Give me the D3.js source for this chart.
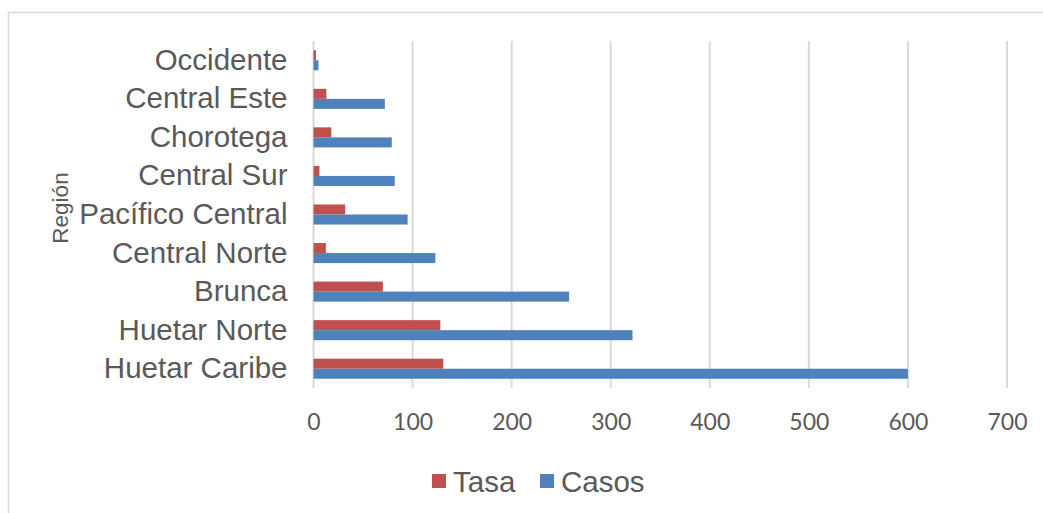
<!DOCTYPE html>
<html>
<head>
<meta charset="utf-8">
<script src="https://cdn.jsdelivr.net/npm/d3@7"></script>
<style>
  body { margin: 0; background: #fff; }
  svg { display: block; }
</style>
</head>
<body>
<svg width="1043" height="513"></svg>
<script>
// data, top to bottom as in the chart
const regions = ["Occidente", "Central Este", "Chorotega", "Central Sur", "Pacífico Central",
  "Central Norte", "Brunca", "Huetar Norte", "Huetar Caribe"];
const tasa = [2.5, 13, 18, 6, 32, 12.5, 70, 128, 131];
const casos = [5, 72, 79, 82, 95, 123, 258, 322, 600];
const seriesNames = ["Tasa", "Casos"];
const xTicks = [0, 100, 200, 300, 400, 500, 600, 700];

const red = "#c0504d", blue = "#4f81bd", grey = "#595959";
const colors = {Tasa: red, Casos: blue};

const svg = d3.select("svg");

// outer chart border
svg.append("rect")
  .attr("x", 8.5).attr("y", 12.5)
  .attr("width", 1100).attr("height", 600)
  .attr("fill", "none")
  .attr("stroke", "#d9d9d9")
  .attr("stroke-width", 1.5);

const xScale = d3.scaleLinear().domain([0, 700]).range([313.5, 1007]);
const yScale = d3.scaleBand().domain(regions).range([41, 388])
  .paddingInner(0.48).paddingOuter(0.24);
const inner = d3.scaleBand().domain(seriesNames).range([0, yScale.bandwidth()]);

// gridlines
svg.append("g").selectAll("line")
  .data(xTicks)
  .join("line")
  .attr("x1", d => xScale(d)).attr("x2", d => xScale(d))
  .attr("y1", 41).attr("y2", 388)
  .attr("stroke", "#d9d9d9")
  .attr("stroke-width", 2);

// x axis labels
let xAxis = d3.axisBottom(xScale).tickValues(xTicks).tickSize(0).tickPadding(26);
let xG = svg.append("g").attr("transform", "translate(0, 388)").call(xAxis);
xG.select(".domain").remove();
xG.selectAll("text")
  .attr("fill", grey)
  .style("font-family", "Lato, sans-serif")
  .style("font-size", "23px");

// category labels
let yAxis = d3.axisLeft(yScale).tickSize(0).tickPadding(26);
let yG = svg.append("g").attr("transform", "translate(313.5, 0)").call(yAxis);
yG.select(".domain").remove();
yG.selectAll("text")
  .attr("fill", grey)
  .style("font-family", "'Liberation Sans', Arial, sans-serif")
  .style("font-size", "29.5px");

// bars
const rows = regions.map((r, i) => ({region: r, Tasa: tasa[i], Casos: casos[i]}));
svg.append("g").selectAll("g")
  .data(rows)
  .join("g")
  .attr("transform", d => `translate(0, ${yScale(d.region)})`)
  .selectAll("rect")
  .data(d => seriesNames.map(s => ({s: s, v: d[s]})))
  .join("rect")
  .attr("x", xScale(0))
  .attr("y", d => inner(d.s))
  .attr("width", d => xScale(d.v) - xScale(0))
  .attr("height", inner.bandwidth())
  .attr("fill", d => colors[d.s]);

// axis title
svg.append("text")
  .attr("transform", "translate(68, 208) rotate(-90)")
  .attr("text-anchor", "middle")
  .attr("fill", grey)
  .style("font-family", "'Liberation Sans', Arial, sans-serif")
  .style("font-size", "22.5px")
  .text("Región");

// legend
const legendX = {Tasa: 432, Casos: 540};
const legend = svg.append("g").selectAll("g")
  .data(seriesNames)
  .join("g")
  .attr("transform", d => `translate(${legendX[d]}, 474)`);
legend.append("rect")
  .attr("width", 14).attr("height", 14)
  .attr("fill", d => colors[d]);
legend.append("text")
  .attr("x", 21).attr("y", 17.5)
  .attr("fill", grey)
  .style("font-family", "'Liberation Sans', Arial, sans-serif")
  .style("font-size", "29.5px")
  .text(d => d);
</script>
</body>
</html>
